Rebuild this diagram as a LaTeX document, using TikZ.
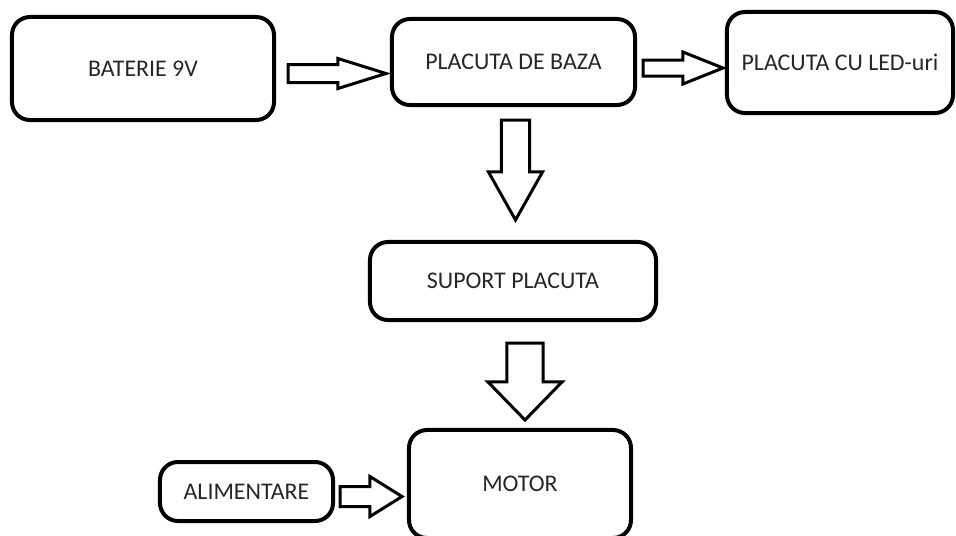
\documentclass[tikz,border=0pt]{standalone}
\usepackage{fontspec}
\setmainfont{Carlito}
\usetikzlibrary{calc}

\tikzset{
  blok/.style={draw,
    line width=0.1cm,
    rounded corners=0.45cm,
    outer sep=0,
    text=black!85,
    font=\fontsize{17}{20}\selectfont},
  hollow/.style={draw, line width=0.075cm, fill=white, line join=miter}
}

% hollow block arrow: start, tip, shaft half width, head half width, head length
\newcommand{\blockarrow}[5]{%
  \coordinate (H) at ($(#2)!#5!(#1)$);
  \draw[hollow] ($(#1)!#3!90:(#2)$) -- ($(H)!#3!-90:(#1)$) -- ($(H)!#4!-90:(#1)$)
    -- (#2) -- ($(H)!#4!90:(#1)$) -- ($(H)!#3!90:(#1)$) -- ($(#1)!#3!-90:(#2)$) -- cycle;}

\begin{document}
\begin{tikzpicture}[x=0.025cm, y=-0.025cm]
    \useasboundingbox (0,0) rectangle (956,535);

    % Baterie
    \node[blok,
      minimum width=6.55cm,
      minimum height=2.575cm] (Baterie) at (143,68.5) {BATERIE 9V};

    % Placuta de baza
    \node[blok,
      minimum width=6.075cm,
      minimum height=2.15cm] (Baza) at (513.5,62) {PLACUTA DE BAZA};

    % Placuta cu LED-uri
    \node[blok,
      minimum width=5.65cm,
      minimum height=2.525cm] (Leduri) at (840,62.5) {PLACUTA CU LED-uri};

    % Suport placuta
    \node[blok,
      minimum width=7.15cm,
      minimum height=1.95cm] (Suport) at (513,281) {SUPORT PLACUTA};

    % Motor
    \node[blok,
      minimum width=5.55cm,
      minimum height=2.7cm] (Motor) at (520,484) {MOTOR};

    % Alimentare
    \node[blok,
      minimum width=4.325cm,
      minimum height=1.475cm] (Alimentare) at (246.5,491.5) {ALIMENTARE};

    % Arrow ends
    \coordinate (a1s) at ($(Baterie.east)+(14,5)$);
    \coordinate (a1t) at ($(a1s -| Baza.west)+(-6,0)$);
    \coordinate (a2s) at ($(Baza.east)+(8,6)$);
    \coordinate (a2t) at ($(a2s -| Leduri.west)+(-4,0)$);
    \coordinate (a3s) at ($(Baza.south)+(2,15)$);
    \coordinate (a3t) at ($(a3s |- Suport.north)+(0,-22)$);
    \coordinate (a4s) at ($(Suport.south)+(12,23)$);
    \coordinate (a4t) at ($(a4s |- Motor.north)+(0,-10)$);
    \coordinate (a5s) at ($(Alimentare.east)+(7,5)$);
    \coordinate (a5t) at ($(a5s -| Motor.west)+(-7,0)$);

    % Draw Arrows
    \blockarrow{a1s}{a1t}{0.225cm}{0.375cm}{1.2cm}
    \blockarrow{a2s}{a2t}{0.2cm}{0.4cm}{1.0cm}
    \blockarrow{a3s}{a3t}{0.35cm}{0.675cm}{1.2cm}
    \blockarrow{a4s}{a4t}{0.45cm}{0.925cm}{0.95cm}
    \blockarrow{a5s}{a5t}{0.25cm}{0.5cm}{0.8cm}
  \end{tikzpicture}
\end{document}
